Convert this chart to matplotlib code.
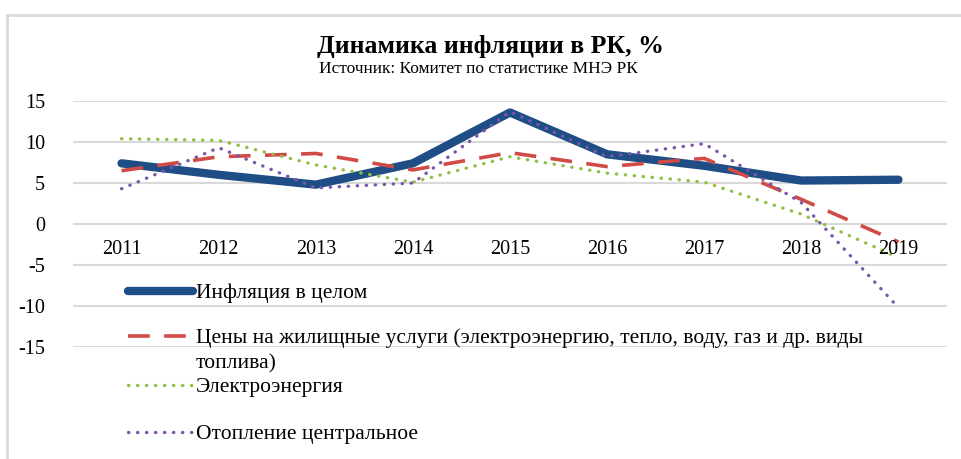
import matplotlib.pyplot as plt
from matplotlib.lines import Line2D

# data
years = ['2011', '2012', '2013', '2014', '2015', '2016', '2017', '2018', '2019']
inflation = [7.4, 6.0, 4.8, 7.4, 13.6, 8.5, 7.1, 5.3, 5.4]
housing = [6.5, 8.2, 8.6, 6.6, 8.7, 7.0, 8.0, 3.0, -2.2]
electricity = [10.4, 10.2, 7.2, 5.1, 8.2, 6.2, 5.1, 1.2, -4.1]
heating = [4.3, 9.3, 4.4, 5.0, 13.7, 8.2, 9.8, 2.6, -10.2]
yticks = [15, 10, 5, 0, -5, -10, -15]

lbl_infl = 'Инфляция в целом'
lbl_house = 'Цены на жилищные услуги (электроэнергию, тепло, воду, газ и др. виды'
lbl_house2 = 'топлива)'
lbl_elec = 'Электроэнергия'
lbl_heat = 'Отопление центральное'

plt.rcParams['font.family'] = ['Liberation Serif', 'DejaVu Serif']

W, H = 961, 459
fig = plt.figure(figsize=(W / 100, H / 100), dpi=100)
ax = fig.add_axes([73 / W, 1 - 347 / H, (947 - 73) / W, (347 - 101) / H])

x = list(range(len(years)))
l_infl, = ax.plot(x, inflation, color='#1f4e86', lw=6, solid_capstyle='round',
                  solid_joinstyle='round', zorder=3)
l_house, = ax.plot(x, housing, color='#d04a46', lw=2.6, dashes=(6, 4), zorder=4)
l_elec, = ax.plot(x, electricity, color='#8fc044', lw=2.4,
                  linestyle=(0, (0.1, 2.6)), dash_capstyle='round', zorder=5)
l_heat, = ax.plot(x, heating, color='#7a55ad', lw=2.4,
                  linestyle=(0, (0.1, 2.6)), dash_capstyle='round', zorder=6)

ax.set_xlim(-0.5, len(years) - 0.5)
ax.set_ylim(-15, 15)
ax.set_yticks(yticks)
ax.set_yticklabels([str(v) for v in yticks], fontsize=14.5)
ax.tick_params(axis='y', length=0, pad=20)
ax.set_xticks([])
ax.grid(axis='y', color='#d9d9d9', lw=1.5)
ax.set_axisbelow(True)
for s in ax.spines.values():
    s.set_visible(False)

# category labels sit just under the zero line
for i, yr in enumerate(years):
    ax.text(i, -3.1, yr, ha='center', va='center', fontsize=14.5, zorder=7)

# title and source
fig.text(490 / W, 1 - 53 / H, 'Динамика инфляции в РК, %', ha='center', va='baseline',
         fontsize=18.5, fontweight='bold')
fig.text(478 / W, 1 - 73 / H, 'Источник: Комитет по статистике МНЭ РК', ha='center',
         va='baseline', fontsize=12.5)

# legend, one row at a time as in the reference
rows = [(l_infl, lbl_infl, 293), (l_house, lbl_house, 338),
        (l_elec, lbl_elec, 387), (l_heat, lbl_heat, 434)]
for h, lab, ypix in rows:
    fig.legend(handles=[h], labels=[lab], loc='center left',
               bbox_to_anchor=(128 / W, 1 - ypix / H), frameon=False,
               fontsize=15.5, handlelength=3.0, handletextpad=0.15,
               borderaxespad=0, borderpad=0)
fig.text(196 / W, 1 - 364 / H, lbl_house2, ha='left', va='center', fontsize=15.5)

# chart frame
fig.add_artist(Line2D([7 / W, 1], [1 - 15 / H, 1 - 15 / H], color='#d9d9d9', lw=2))
fig.add_artist(Line2D([7 / W, 7 / W], [0, 1 - 15 / H], color='#d9d9d9', lw=2))

fig.savefig('out.png', dpi=100)
